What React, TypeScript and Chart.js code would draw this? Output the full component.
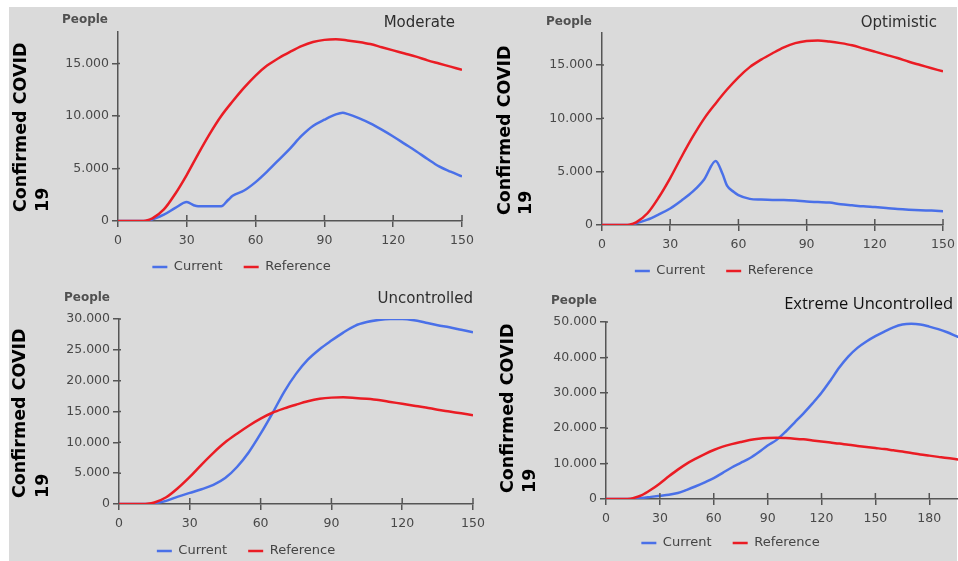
import React, { useEffect, useRef } from 'react';
import { Chart, registerables } from 'chart.js';

Chart.register(...registerables);

// ---------------- data ----------------
const SERIES_CURRENT = 'Current';
const SERIES_REFERENCE = 'Reference';
const Y_TITLE_LINES = ['Confirmed COVID', '19'];
const UNIT_LABEL = 'People';

const REF_DAYS = [0, 5, 10, 12, 15, 20, 25, 30, 35, 40, 45, 50, 55, 60, 65, 70, 75, 80, 85, 90, 95, 100, 105, 110, 115, 120, 125, 130, 135, 140, 145, 150, 155, 160, 165, 170, 175, 180, 185, 190, 195, 200];
const REF_VALUES = [0, 0, 0, 30, 250, 1100, 2600, 4400, 6400, 8300, 10000, 11400, 12700, 13850, 14800, 15500, 16100, 16650, 17050, 17250, 17300, 17200, 17050, 16850, 16550, 16250, 15950, 15650, 15300, 15000, 14700, 14400, 14100, 13750, 13400, 13000, 12600, 12250, 11900, 11550, 11250, 10950];

const MODERATE_DAYS = [0, 5, 10, 13, 15, 20, 25, 30, 33, 35, 40, 45, 48, 50, 55, 60, 65, 70, 75, 80, 85, 90, 95, 98, 100, 105, 110, 115, 120, 125, 130, 135, 140, 145, 150];
const MODERATE_CURRENT = [0, 0, 0, 0, 150, 600, 1250, 1800, 1500, 1400, 1400, 1400, 2000, 2400, 2900, 3700, 4700, 5800, 6900, 8100, 9050, 9650, 10150, 10300, 10200, 9800, 9300, 8700, 8050, 7350, 6650, 5900, 5200, 4700, 4250];

const OPTIMISTIC_DAYS = [0, 5, 10, 12, 15, 20, 25, 30, 35, 40, 45, 50, 53, 55, 58, 60, 65, 70, 75, 80, 85, 90, 95, 100, 105, 110, 115, 120, 125, 130, 135, 140, 145, 150];
const OPTIMISTIC_CURRENT = [0, 0, 0, 0, 150, 500, 1000, 1550, 2300, 3150, 4300, 6000, 4800, 3700, 3100, 2800, 2450, 2380, 2350, 2350, 2300, 2200, 2150, 2100, 1950, 1850, 1750, 1680, 1600, 1500, 1430, 1380, 1350, 1300];

const UNCONTROLLED_DAYS = [0, 5, 10, 13, 15, 20, 25, 30, 35, 40, 45, 50, 55, 60, 65, 70, 75, 80, 85, 90, 95, 100, 105, 110, 115, 120, 125, 130, 135, 140, 145, 150];
const UNCONTROLLED_CURRENT = [0, 0, 0, 0, 100, 500, 1200, 1800, 2400, 3100, 4200, 6000, 8400, 11400, 14700, 18200, 21100, 23400, 25100, 26500, 27800, 28900, 29500, 29850, 30000, 30000, 29800, 29400, 29000, 28650, 28250, 27850];

const EXTREME_DAYS = [0, 5, 10, 15, 17, 20, 25, 30, 35, 40, 45, 50, 55, 60, 65, 70, 75, 80, 85, 90, 95, 100, 105, 110, 115, 120, 125, 130, 135, 140, 145, 150, 155, 160, 165, 170, 175, 180, 185, 190, 195, 200];
const EXTREME_CURRENT = [0, 0, 0, 0, 150, 300, 600, 900, 1200, 1700, 2600, 3600, 4700, 5900, 7400, 8900, 10200, 11500, 13200, 15100, 16700, 19000, 21600, 24200, 27000, 30000, 33500, 37200, 40300, 42700, 44500, 46000, 47300, 48500, 49300, 49500, 49300, 48700, 48000, 47100, 46000, 44900];

const TITLES = ['Moderate', 'Optimistic', 'Uncontrolled', 'Extreme Uncontrolled'];
const X_MAXES = [150, 150, 150, 196];
const Y_MAXES = [18000, 18000, 30000, 50000];

const X_TICKS_150 = [0, 30, 60, 90, 120, 150];
const X_TICKS_180 = [0, 30, 60, 90, 120, 150, 180];
const Y_TICKS_15K = [0, 5000, 10000, 15000];
const Y_TICKS_30K = [0, 5000, 10000, 15000, 20000, 25000, 30000];
const Y_TICKS_50K = [0, 10000, 20000, 30000, 40000, 50000];
const X_TICK_SETS = [X_TICKS_150, X_TICKS_150, X_TICKS_150, X_TICKS_180];
const Y_TICK_SETS = [Y_TICKS_15K, Y_TICKS_15K, Y_TICKS_30K, Y_TICKS_50K];

// ---------------- styles ----------------
const AXIS = '#555555';
const TICK_TEXT = '#484848';
const BLUE = 'rgb(74,112,232)';
const RED = 'rgb(234,28,36)';
const BG = '#dadada';
const FONT = '"DejaVu Sans", Verdana, sans-serif';

const fmt = (v: number) => String(Math.round(v)).replace(/\B(?=(\d{3})+(?!\d))/g, '.');

type Panel = {
  key: string;
  idx: number;
  days: number[];
  current: number[];
  left: number; top: number; width: number; height: number;
  pad: { left: number; top: number; right: number; bottom: number };
  yW: number; xH: number;
  yTitleX: number; yTitleGap: number; yTitleDy: number;
  peopleDx: number; peopleDy: number;
  titleDx: number; titleDy: number;
  titleFont: string; titleColor: string;
};

const PANELS: Panel[] = [
  {
    key: 'p1', idx: 0, days: MODERATE_DAYS, current: MODERATE_CURRENT,
    left: 9, top: 7, width: 470, height: 278,
    pad: { left: 12, top: 25, right: 17, bottom: 1.5 }, yW: 97, xH: 18.5,
    yTitleX: 12.5, yTitleGap: 21.5, yTitleDy: 9,
    peopleDx: 10, peopleDy: 12, titleDx: 7, titleDy: 9,
    titleFont: '15px ' + FONT, titleColor: '#2e2e2e',
  },
  {
    key: 'p2', idx: 1, days: OPTIMISTIC_DAYS, current: OPTIMISTIC_CURRENT,
    left: 480, top: 7, width: 478, height: 283,
    pad: { left: 25, top: 26, right: 15, bottom: 2.5 }, yW: 97, xH: 18.5,
    yTitleX: 25.5, yTitleGap: 20.5, yTitleDy: 10,
    peopleDx: 10, peopleDy: 11, titleDx: 6, titleDy: 10,
    titleFont: '15px ' + FONT, titleColor: '#2e2e2e',
  },
  {
    key: 'p3', idx: 2, days: UNCONTROLLED_DAYS, current: UNCONTROLLED_CURRENT,
    left: 9, top: 285, width: 490, height: 285,
    pad: { left: 10, top: 34, right: 26, bottom: 2.5 }, yW: 100, xH: 19.5,
    yTitleX: 11.5, yTitleGap: 23, yTitleDy: 6,
    peopleDx: 9, peopleDy: 21, titleDx: 0, titleDy: 20,
    titleFont: '15px ' + FONT, titleColor: '#2e2e2e',
  },
  {
    key: 'p4', idx: 3, days: EXTREME_DAYS, current: EXTREME_CURRENT,
    left: 480, top: 285, width: 500, height: 277,
    pad: { left: 23, top: 37, right: 22, bottom: 2.5 }, yW: 103, xH: 16.5,
    yTitleX: 28.5, yTitleGap: 21.5, yTitleDy: 6,
    peopleDx: 9, peopleDy: 21, titleDx: 5, titleDy: 18,
    titleFont: '16.5px "Open Sans", sans-serif', titleColor: '#111111',
  },
];

function makeDeco(p: Panel) {
  return {
    id: 'deco_' + p.key,
    afterLayout(chart: any) {
      // let the x tick labels overflow their (intentionally short) scale box
      const xs = chart.scales.x;
      if (xs) xs.bottom = xs.top + 40;
    },
    afterDraw(chart: any) {
      const { ctx, chartArea: a, scales } = chart;
      const xs = scales.x;
      const ys = scales.y;
      ctx.save();
      // inner halves of the tick marks
      ctx.strokeStyle = AXIS;
      ctx.lineWidth = 1.5;
      ctx.beginPath();
      xs.ticks.forEach((t: any) => {
        const px = xs.getPixelForValue(t.value);
        if (px > a.left + 1) {
          ctx.moveTo(px, a.bottom);
          ctx.lineTo(px, a.bottom - 6);
        }
      });
      ys.ticks.forEach((t: any) => {
        const py = ys.getPixelForValue(t.value);
        if (py < a.bottom - 1) {
          ctx.moveTo(a.left, py);
          ctx.lineTo(a.left + 2, py);
        }
      });
      ctx.stroke();

      // y axis title (lines start at the bottom)
      ctx.fillStyle = '#000000';
      ctx.font = 'bold 17.5px ' + FONT;
      ctx.textAlign = 'left';
      ctx.textBaseline = 'middle';
      Y_TITLE_LINES.forEach((line, i) => {
        ctx.save();
        ctx.translate(p.yTitleX + i * p.yTitleGap, a.bottom - p.yTitleDy);
        ctx.rotate(-Math.PI / 2);
        ctx.fillText(line, 0, 0);
        ctx.restore();
      });

      // unit label
      ctx.font = 'bold 12px ' + FONT;
      ctx.fillStyle = '#505050';
      ctx.textAlign = 'right';
      ctx.fillText(UNIT_LABEL, a.left - p.peopleDx, a.top - p.peopleDy);

      // scenario title
      ctx.font = p.titleFont;
      ctx.fillStyle = p.titleColor;
      ctx.textAlign = 'right';
      ctx.fillText(TITLES[p.idx], a.right - p.titleDx, a.top - p.titleDy);
      ctx.restore();
    },
  };
}

function PanelChart({ p }: { p: Panel }) {
  const ref = useRef<HTMLCanvasElement | null>(null);
  useEffect(() => {
    if (!ref.current) return;
    const tickFont = { family: FONT, size: 12.5 };
    const xTicks = X_TICK_SETS[p.idx];
    const yTicks = Y_TICK_SETS[p.idx];
    const chart = new Chart(ref.current, {
      type: 'line',
      data: {
        datasets: [
          {
            label: SERIES_REFERENCE,
            data: REF_DAYS.map((d, i) => ({ x: d, y: REF_VALUES[i] })),
            borderColor: RED,
            backgroundColor: RED,
            borderWidth: 2.5,
            pointRadius: 0,
            cubicInterpolationMode: 'monotone',
          },
          {
            label: SERIES_CURRENT,
            data: p.days.map((d, i) => ({ x: d, y: p.current[i] })),
            borderColor: BLUE,
            backgroundColor: BLUE,
            borderWidth: 2.5,
            pointRadius: 0,
            cubicInterpolationMode: 'monotone',
          },
        ],
      },
      options: {
        responsive: false,
        animation: false,
        events: [],
        layout: { padding: p.pad },
        scales: {
          x: {
            type: 'linear',
            min: 0,
            max: X_MAXES[p.idx],
            afterBuildTicks: (s: any) => { s.ticks = xTicks.map((v) => ({ value: v })); },
            afterFit: (s: any) => { s.height = p.xH; s.paddingLeft = 0; s.paddingRight = 0; },
            border: { color: AXIS, width: 1.5 },
            grid: { drawOnChartArea: false, drawTicks: true, tickLength: 6, color: AXIS, lineWidth: 1.5 },
            ticks: { color: TICK_TEXT, font: tickFont, padding: 6, maxRotation: 0, autoSkip: false },
          },
          y: {
            type: 'linear',
            min: 0,
            max: Y_MAXES[p.idx],
            afterBuildTicks: (s: any) => { s.ticks = yTicks.map((v) => ({ value: v })); },
            afterFit: (s: any) => { s.width = p.yW; s.paddingTop = 0; s.paddingBottom = 0; },
            border: { color: AXIS, width: 1.5 },
            grid: { drawOnChartArea: false, drawTicks: true, tickLength: 6, color: AXIS, lineWidth: 1.5 },
            ticks: { color: TICK_TEXT, font: tickFont, padding: 3, autoSkip: false, callback: (v: any) => fmt(Number(v)) },
          },
        },
        plugins: {
          legend: {
            display: true,
            position: 'bottom',
            reverse: true,
            labels: {
              usePointStyle: true,
              pointStyle: 'line',
              pointStyleWidth: 15,
              padding: 21,
              color: '#444444',
              font: { family: FONT, size: 13 },
            },
          },
          tooltip: { enabled: false },
          title: { display: false },
        },
      },
      plugins: [makeDeco(p)],
    } as any);
    return () => chart.destroy();
  }, [p]);
  return (
    <canvas
      ref={ref}
      width={p.width}
      height={p.height}
      style={{ position: 'absolute', left: p.left, top: p.top, width: p.width, height: p.height }}
    />
  );
}

export default function App() {
  return (
    <div style={{ position: 'fixed', left: 0, top: 0, width: 958, height: 561, overflow: 'hidden', background: '#ffffff' }}>
      <div style={{ position: 'absolute', left: 9, top: 7, right: 1, bottom: 0, background: BG }} />
      {PANELS.map((p) => (
        <PanelChart key={p.key} p={p} />
      ))}
    </div>
  );
}
